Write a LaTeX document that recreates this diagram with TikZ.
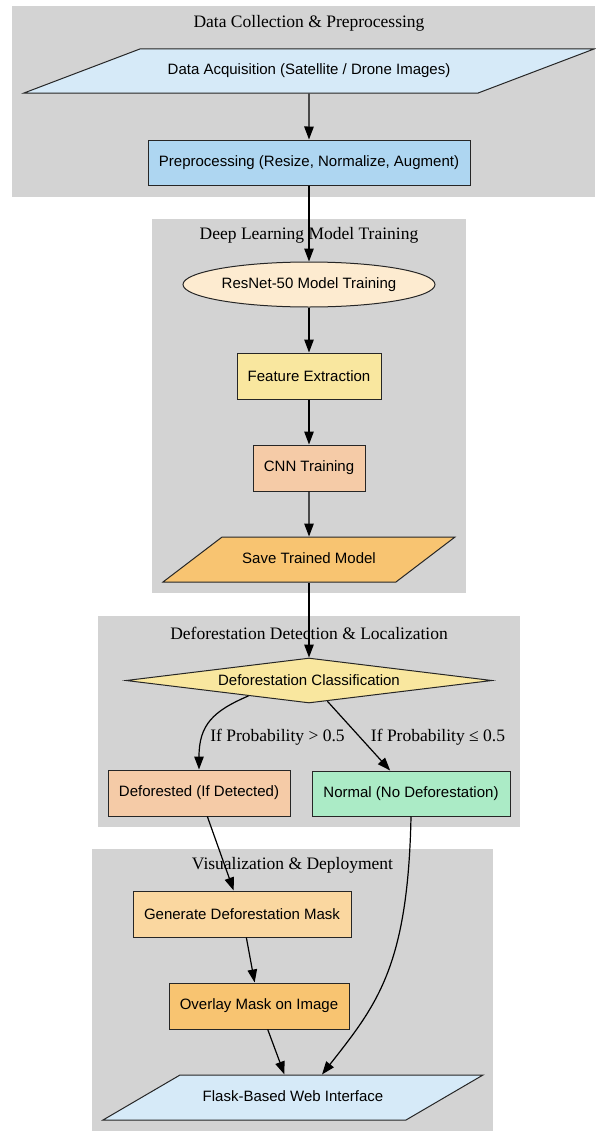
\documentclass[tikz,border=0pt]{standalone}
\usepackage{fontspec}
\setmainfont{Liberation Serif}
\setsansfont{Liberation Sans}
\definecolor{forestgray}{HTML}{D3D3D3}
\definecolor{forestsky}{HTML}{D6EAF8}
\definecolor{forestblue}{HTML}{AED6F1}
\definecolor{forestcream}{HTML}{FDEBD0}
\definecolor{forestyellow}{HTML}{F9E79F}
\definecolor{forestpeach}{HTML}{F5CBA7}
\definecolor{forestorange}{HTML}{F8C471}
\definecolor{forestgreen}{HTML}{ABEBC6}
\definecolor{forestsand}{HTML}{FAD7A0}
\usetikzlibrary{arrows.meta,shapes.geometric,calc}

\begin{document}
\begin{tikzpicture}[x=1pt,y=-1pt,
        box/.style={rectangle,draw=black!85,line width=1pt,inner sep=0pt,
              font=\fontsize{15}{18}\selectfont\sffamily},
        io/.style={box,trapezium,trapezium stretches body,
              text height=11pt,text depth=4pt,inner ysep=15pt},
        ttl/.style={font=\fontsize{17.5}{21}\selectfont},
        lbl/.style={font=\fontsize{17.5}{21}\selectfont},
        arr/.style={-{Triangle[length=13pt,width=9.5pt]},line width=1.2pt}]

        \useasboundingbox (0,0) rectangle (595,1140);

        % clusters
        \fill[forestgray] (12,6)   rectangle (595,197);
        \fill[forestgray] (152,219) rectangle (466,593);
        \fill[forestgray] (98,616)  rectangle (520,827);
        \fill[forestgray] (92,849)  rectangle (493,1131);

        \node[ttl] (t1) at (309,23)    {Data Collection \& Preprocessing};
        \node[ttl] (t2) at (309,235)   {Deep Learning Model Training};
        \node[ttl] (t3) at (309,633)   {Deforestation Detection \& Localization};
        \node[ttl] (t4) at (292.5,865) {Visualization \& Deployment};

        % data collection
        \node[io,fill=forestsky,trapezium left angle=20.8,trapezium right angle=159.2,
              inner ysep=14.5pt,minimum width=570pt]
              (acq) at (309,71) {Data Acquisition (Satellite / Drone Images)};
        \node[box,fill=forestblue,minimum width=322pt,minimum height=45pt]
              (pre) at (309,162.5) {Preprocessing (Resize, Normalize, Augment)};

        % model training
        \node[box,ellipse,fill=forestcream,minimum width=252pt,minimum height=45pt]
              (res) at (309,284.5) {ResNet-50 Model Training};
        \node[box,fill=forestyellow,minimum width=144pt,minimum height=46pt]
              (feat) at (309,376) {Feature Extraction};
        \node[box,fill=forestpeach,minimum width=112pt,minimum height=46pt]
              (cnn) at (309,468) {CNN Training};
        \node[io,fill=forestorange,trapezium left angle=37.3,trapezium right angle=142.7,
              minimum width=292pt]
              (save) at (309,559.5) {Save Trained Model};

        % detection
        \node[box,diamond,aspect=8,fill=forestyellow,minimum width=366pt,minimum height=45pt]
              (cls) at (309,680.5) {Deforestation Classification};
        \node[box,fill=forestpeach,minimum width=182pt,minimum height=46pt]
              (defo) at (199,793) {Deforested (If Detected)};
        \node[box,fill=forestgreen,minimum width=198pt,minimum height=45pt]
              (normal) at (411,793.5) {Normal (No Deforestation)};

        % visualization
        \node[box,fill=forestsand,minimum width=218pt,minimum height=46pt]
              (gen) at (242,914) {Generate Deforestation Mask};
        \node[box,fill=forestorange,minimum width=180pt,minimum height=46pt]
              (over) at (259,1006) {Overlay Mask on Image};
        \node[io,fill=forestsky,trapezium left angle=30.3,trapezium right angle=149.7,
              minimum width=380pt]
              (flask) at (293,1097.5) {Flask-Based Web Interface};

        \draw[arr] (acq) -- (pre);
        \draw[arr] (pre) -- (res);
        \draw[arr] (res) -- (feat);
        \draw[arr] (feat) -- (cnn);
        \draw[arr] (cnn) -- (save);
        \draw[arr] (save) -- (cls);
        \draw[arr] ($(cls.south)!0.33!(cls.west)$) .. controls +(-35,15) and +(0,-45) .. (defo.north);
        \draw[arr] ($(cls.south)!0.1!(cls.east)$) -- (normal);
        \draw[arr] (defo) -- (gen);
        \draw[arr] (gen) -- (over);
        \draw[arr] (over) -- (flask);
        \draw[arr] (normal.south) .. controls +(-3,150) and +(55,-70) .. ($(flask.north)+(29,0)$);

        \node[lbl] (gt) at (277.5,737) {If Probability > 0.5};
        \node[lbl] (le) at (438,737)   {If Probability ≤ 0.5};

\end{tikzpicture}
\end{document}
